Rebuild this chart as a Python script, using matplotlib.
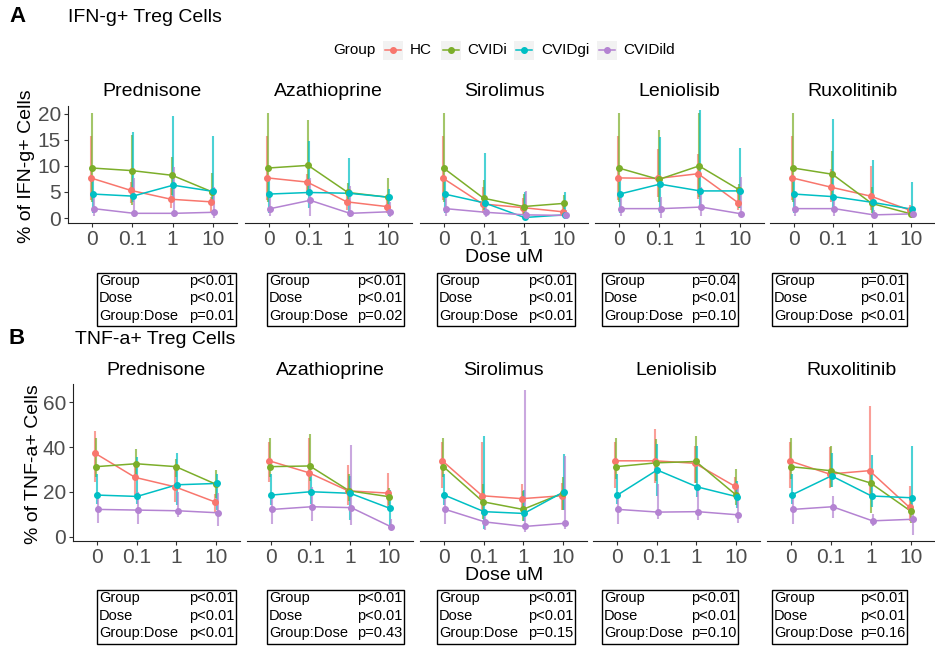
import numpy as np
import matplotlib
matplotlib.use("Agg")
import matplotlib.pyplot as plt
from matplotlib.patches import Rectangle
from matplotlib.lines import Line2D

plt.rcParams['font.family'] = ['Liberation Sans', 'DejaVu Sans']

drugs = ['Prednisone', 'Azathioprine', 'Sirolimus', 'Leniolisib', 'Ruxolitinib']
doses = ['0', '0.1', '1', '10']
groups = ['HC', 'CVIDi', 'CVIDgi', 'CVIDild']
colors = ['#F8766D', '#7CAE2A', '#00BFC4', '#B483D2']

# IFN-g+ Treg cells: one row per drug, one column per dose
ifn_hc = [[7.7, 5.3, 3.6, 3.1], [7.7, 6.9, 3.1, 2.2], [7.7, 2.7, 2.0, 1.2], [7.7, 7.6, 8.5, 2.9], [7.7, 5.9, 4.2, 1.5]]
ifn_hc_lo = [[3.5, 2.9, 1.9, 1.2], [3.5, 4.5, 1.5, 1.0], [3.5, 1.0, 0.5, 0.3], [3.5, 4.1, 3.6, 1.5], [3.5, 3.0, 1.5, 0.8]]
ifn_hc_hi = [[15.8, 7.0, 5.8, 4.1], [15.8, 8.5, 4.5, 3.5], [15.8, 6.0, 3.8, 3.0], [15.8, 13.2, 12.3, 5.9], [15.8, 9.5, 9.9, 2.5]]

ifn_cvidi = [[9.6, 9.1, 8.2, 5.0], [9.6, 10.1, 4.9, 4.0], [9.6, 3.8, 2.2, 2.8], [9.6, 7.4, 10.0, 5.4], [9.6, 8.4, 2.8, 0.8]]
ifn_cvidi_lo = [[3.0, 2.5, 4.5, 2.5], [3.0, 4.5, 3.0, 2.0], [3.0, 1.5, 0.5, 0.7], [3.0, 3.0, 4.0, 2.0], [3.0, 3.5, 1.0, 0.1]]
ifn_cvidi_hi = [[20.1, 16.0, 11.8, 8.6], [20.1, 18.8, 6.7, 7.6], [20.1, 7.3, 4.7, 4.5], [20.1, 16.9, 20.1, 6.5], [20.1, 12.8, 6.0, 1.5]]

ifn_cvidgi = [[4.6, 4.2, 6.3, 5.1], [4.6, 4.9, 4.75, 4.0], [4.6, 2.9, 0.1, 0.6], [4.6, 6.5, 5.2, 5.2], [4.6, 4.1, 3.0, 1.7]]
ifn_cvidgi_lo = [[1.0, 3.0, 3.0, 2.5], [1.0, 2.0, 0.3, 0.3], [1.0, 1.0, 0.0, 0.0], [1.0, 1.0, 2.5, 2.0], [1.0, 1.5, 1.0, 0.3]]
ifn_cvidgi_hi = [[8.0, 16.5, 19.6, 15.8], [8.0, 14.7, 11.5, 5.5], [8.0, 12.4, 5.0, 4.9], [8.0, 15.5, 20.8, 13.4], [8.0, 19.0, 11.2, 7.0]]

ifn_cvidild = [[1.8, 0.9, 0.9, 1.1], [1.8, 3.4, 0.9, 1.2], [1.8, 1.1, 0.6, 0.5], [1.8, 1.8, 2.1, 0.8], [1.8, 1.8, 0.6, 0.8]]
ifn_cvidild_lo = [[0.4, 0.2, 0.2, 0.0], [0.4, 0.3, 0.2, 0.1], [0.4, 0.1, 0.0, 0.0], [0.4, 0.0, 0.3, 0.1], [0.4, 0.3, 0.0, 0.0]]
ifn_cvidild_hi = [[4.5, 7.7, 9.8, 6.0], [4.5, 7.6, 6.2, 3.0], [4.5, 3.0, 5.2, 1.5], [4.5, 4.0, 6.0, 7.8], [4.5, 4.0, 1.5, 1.5]]

# TNF-a+ Treg cells
tnf_hc = [[37.2, 26.5, 22.3, 15.6], [33.9, 28.6, 20.5, 19.5], [33.9, 18.3, 17.0, 18.3], [33.9, 33.9, 32.8, 22.6], [33.9, 28.0, 29.5, 13.1]]
tnf_hc_lo = [[24.6, 18.6, 15.6, 11.2], [24.3, 20.0, 14.0, 13.0], [21.6, 10.0, 12.0, 12.0], [21.6, 24.0, 24.0, 17.0], [21.6, 21.6, 18.0, 7.0]]
tnf_hc_hi = [[47.2, 32.8, 29.8, 19.0], [42.1, 43.9, 32.0, 28.3], [42.1, 42.3, 23.5, 24.0], [42.3, 47.9, 40.5, 26.8], [42.1, 39.9, 58.3, 22.6]]

tnf_cvidi = [[31.3, 32.6, 31.3, 23.5], [31.3, 31.6, 20.5, 17.9], [31.3, 15.6, 12.2, 19.4], [31.3, 33.0, 33.6, 18.8], [31.3, 29.5, 24.0, 11.5]]
tnf_cvidi_lo = [[26.8, 27.0, 26.5, 17.5], [26.5, 25.0, 16.0, 14.0], [26.5, 8.0, 7.0, 12.0], [26.0, 25.0, 24.0, 14.0], [26.0, 22.0, 10.7, 6.0]]
tnf_cvidi_hi = [[44.2, 39.3, 34.5, 29.8], [44.2, 46.0, 28.0, 21.6], [44.2, 23.5, 20.5, 26.8], [44.2, 43.5, 44.9, 30.1], [44.2, 40.5, 30.0, 17.0]]

tnf_cvidgi = [[18.6, 18.0, 23.2, 23.8], [18.6, 20.1, 19.4, 12.7], [18.6, 11.2, 10.4, 20.0], [18.6, 29.8, 22.3, 17.9], [18.6, 27.2, 18.2, 17.4]]
tnf_cvidgi_lo = [[14.5, 14.5, 14.0, 12.0], [14.0, 14.5, 7.5, 3.0], [14.0, 3.5, 7.0, 12.0], [14.5, 18.2, 17.9, 13.0], [14.5, 22.0, 13.2, 12.0]]
tnf_cvidgi_hi = [[27.8, 35.7, 37.5, 28.0], [28.0, 28.0, 27.0, 21.0], [28.0, 44.9, 21.0, 36.9], [28.0, 41.4, 40.5, 25.0], [28.0, 37.2, 36.3, 40.5]]

tnf_cvidild = [[12.2, 11.9, 11.6, 10.7], [12.2, 13.4, 13.0, 4.5], [12.2, 6.6, 4.6, 6.0], [12.2, 11.0, 11.2, 9.8], [12.2, 13.4, 7.1, 7.8]]
tnf_cvidild_lo = [[6.0, 5.5, 9.0, 4.8], [5.5, 7.1, 5.2, 3.2], [5.5, 3.0, 2.0, 3.5], [5.5, 8.0, 7.5, 6.0], [5.5, 8.3, 5.0, 0.8]]
tnf_cvidild_hi = [[20.0, 20.0, 20.0, 19.5], [20.0, 22.0, 40.9, 8.0], [20.0, 10.0, 65.5, 36.0], [20.0, 23.5, 22.0, 22.0], [20.0, 18.0, 10.0, 12.0]]

# two-way ANOVA p-values (Group, Dose, Group:Dose)
stat_terms = ['Group', 'Dose', 'Group:Dose']
ifn_pvals = [['p<0.01', 'p<0.01', 'p=0.01'], ['p<0.01', 'p<0.01', 'p=0.02'], ['p<0.01', 'p<0.01', 'p<0.01'],
             ['p=0.04', 'p<0.01', 'p=0.10'], ['p=0.01', 'p<0.01', 'p<0.01']]
tnf_pvals = [['p<0.01', 'p<0.01', 'p<0.01'], ['p<0.01', 'p<0.01', 'p=0.43'], ['p<0.01', 'p<0.01', 'p=0.15'],
             ['p<0.01', 'p<0.01', 'p=0.10'], ['p<0.01', 'p<0.01', 'p=0.16']]

W, H = 935, 646
fig = plt.figure(figsize=(W / 100, H / 100), dpi=100)


def fx(x):
    return x / W


def fy(y):
    return 1 - y / H


dodge = [-0.0375, -0.0125, 0.0125, 0.0375]


def draw_panel(means, los, his, pvals, ylim, yticks, ylabel, title, letter, geo):
    xs_px, top, bot, title_y, facet_y, lab_y, ylab_x, tab_top, title_x = geo
    xpos = np.arange(len(doses))
    for d, (x0, x1) in enumerate(xs_px):
        ax = fig.add_axes([fx(x0), fy(bot), (x1 - x0) / W, (bot - top) / H])
        for g in range(len(groups)):
            ax.vlines(xpos + dodge[g], los[g][d], his[g][d], color=colors[g], lw=1.5, alpha=0.7, zorder=1)
        for g in range(len(groups)):
            ax.plot(xpos + dodge[g], means[g][d], color=colors[g], lw=1.1, zorder=2)
            ax.plot(xpos + dodge[g], means[g][d], 'o', color=colors[g], ms=4.0, zorder=3)
        ax.set_xlim(-0.6, 3.6)
        ax.set_ylim(*ylim)
        ax.set_xticks(xpos)
        ax.set_xticklabels(doses)
        ax.set_yticks(yticks)
        ax.tick_params(colors='#333333', labelcolor='#4D4D4D', labelsize=15, length=3, width=0.8, pad=2)
        for s in ['top', 'right']:
            ax.spines[s].set_visible(False)
        ax.spines['bottom'].set_color('#222222')
        ax.spines['left'].set_color('#222222')
        if d > 0:
            ax.spines['left'].set_visible(False)
            ax.tick_params(axis='y', left=False, labelleft=False)
        ax.patch.set_alpha(0)
        fig.text(fx((x0 + x1) / 2), fy(facet_y), drugs[d], ha='center', va='center', fontsize=14)

        # stats box
        bx0, bx1 = tab_boxes[d]
        fig.add_artist(Rectangle((fx(bx0), fy(tab_top + 53.5)), (bx1 - bx0) / W, 53.5 / H,
                                 fill=False, ec='black', lw=1.0, transform=fig.transFigure))
        for r, term in enumerate(stat_terms):
            ry = tab_top + 8 + r * 17.6
            fig.text(fx(bx0 + 2), fy(ry), term, ha='left', va='center', fontsize=10.5)
            fig.text(fx(bx1 - 2), fy(ry), pvals[d][r], ha='right', va='center', fontsize=10.5)

    fig.text(fx(504), fy(lab_y), 'Dose uM', ha='center', va='center', fontsize=14)
    fig.text(fx(ylab_x), fy((top + bot) / 2 + 2), ylabel, rotation=90, ha='center', va='center', fontsize=14)
    fig.text(fx(title_x), fy(title_y), title, ha='left', va='center', fontsize=14)
    fig.text(fx(9), fy(title_y - 1), letter, ha='left', va='center', fontsize=16, fontweight='bold')


tab_boxes = [(97, 236), (267, 404), (437, 575), (602, 738), (772, 907)]

ifn_m = [ifn_hc, ifn_cvidi, ifn_cvidgi, ifn_cvidild]
ifn_l = [ifn_hc_lo, ifn_cvidi_lo, ifn_cvidgi_lo, ifn_cvidild_lo]
ifn_h = [ifn_hc_hi, ifn_cvidi_hi, ifn_cvidgi_hi, ifn_cvidild_hi]
tnf_m = [tnf_hc, tnf_cvidi, tnf_cvidgi, tnf_cvidild]
tnf_l = [tnf_hc_lo, tnf_cvidi_lo, tnf_cvidgi_lo, tnf_cvidild_lo]
tnf_h = [tnf_hc_hi, tnf_cvidi_hi, tnf_cvidgi_hi, tnf_cvidild_hi]

geo_a = ([(68, 237), (245, 412), (420, 588), (595, 764), (770, 935)], 106, 222.7, 18, 92, 258, 27, 272.7, 68)
geo_b = ([(73, 240), (247, 413), (420, 587), (593, 760), (767, 935)], 384, 541, 340, 370.7, 576, 34, 590, 75)

draw_panel(ifn_m, ifn_l, ifn_h, ifn_pvals, (-0.9, 21.5), [0, 5, 10, 15, 20],
           '% of IFN-g+ Cells', 'IFN-g+ Treg Cells', 'A', geo_a)
draw_panel(tnf_m, tnf_l, tnf_h, tnf_pvals, (-1.9, 68.2), [0, 20, 40, 60],
           '% of TNF-a+ Cells', 'TNF-a+ Treg Cells', 'B', geo_b)

# legend
leg_y = 50
fig.text(fx(333), fy(leg_y), 'Group', ha='left', va='center', fontsize=11)
key_x = [383, 441, 514, 597]
lab_x = [410, 467, 541, 623]
for g in range(len(groups)):
    k = key_x[g]
    fig.add_artist(Rectangle((fx(k), fy(leg_y + 9.5)), 19.5 / W, 19 / H, fc='#F2F2F2', ec='none',
                             transform=fig.transFigure))
    fig.add_artist(Line2D([fx(k + 1.5), fx(k + 18)], [fy(leg_y), fy(leg_y)], color=colors[g], lw=1.1,
                          transform=fig.transFigure))
    fig.add_artist(Line2D([fx(k + 9.75)], [fy(leg_y)], marker='o', ms=4.0, color=colors[g],
                          transform=fig.transFigure))
    fig.text(fx(lab_x[g]), fy(leg_y), groups[g], ha='left', va='center', fontsize=11)

fig.savefig('out.png', dpi=100)
